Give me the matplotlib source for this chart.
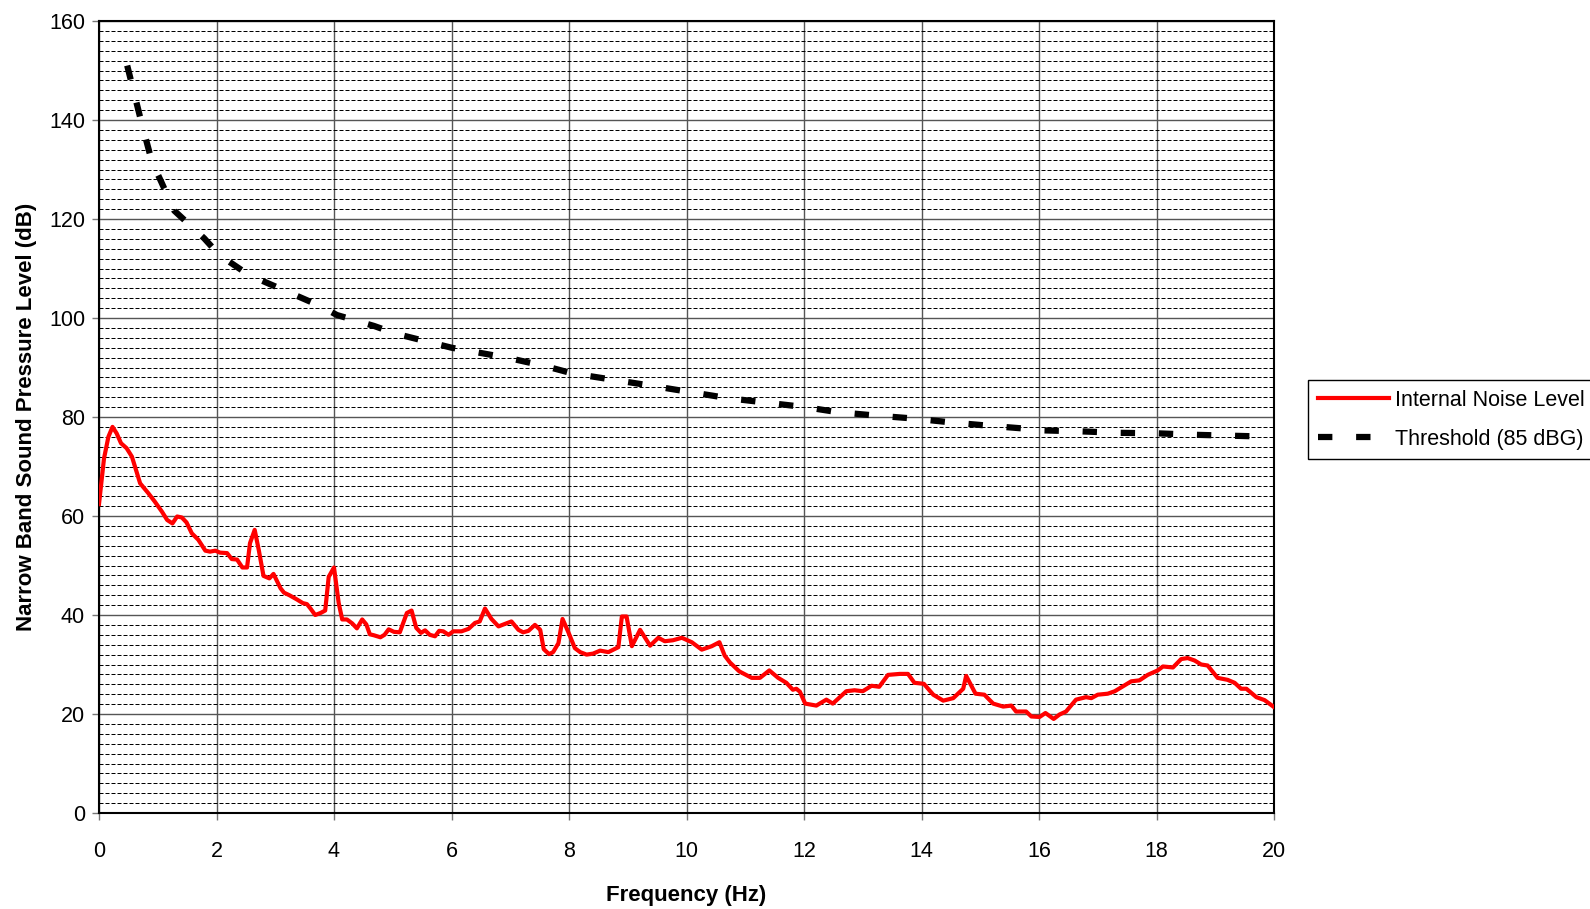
import matplotlib
matplotlib.use("Agg")
import matplotlib.pyplot as plt
from matplotlib.ticker import MultipleLocator

plt.rcParams["font.family"] = ["Liberation Sans", "DejaVu Sans"]

# Internal noise level, narrow band (Hz, dB)
noise_freq = [
    0.0, 0.085, 0.16, 0.23, 0.30, 0.375, 0.47, 0.56, 0.70, 0.84, 0.95, 1.07,
    1.16, 1.25, 1.33, 1.41, 1.49, 1.58, 1.69, 1.81, 1.89, 1.98, 2.06, 2.18,
    2.26, 2.35, 2.44, 2.52, 2.57, 2.65, 2.72, 2.80, 2.90, 2.97, 3.09, 3.15,
    3.24, 3.36, 3.47, 3.54, 3.60, 3.68, 3.77, 3.85, 3.91, 4.0, 4.08, 4.14,
    4.22, 4.31, 4.39, 4.48, 4.55, 4.61, 4.68, 4.79, 4.86, 4.93, 5.02, 5.12,
    5.24, 5.32, 5.40, 5.48, 5.55, 5.63, 5.72, 5.79, 5.86, 5.95, 6.03, 6.17,
    6.29, 6.40, 6.48, 6.57, 6.68, 6.80, 6.91, 7.02, 7.14, 7.22, 7.31, 7.42,
    7.51, 7.57, 7.66, 7.73, 7.82, 7.89, 7.99, 8.10, 8.19, 8.30, 8.41, 8.53,
    8.67, 8.84, 8.90, 8.98, 9.07, 9.21, 9.38, 9.52, 9.63, 9.77, 9.92, 10.09,
    10.26, 10.43, 10.56, 10.65, 10.74, 10.90, 11.11, 11.25, 11.41, 11.56,
    11.70, 11.81, 11.87, 11.93, 12.02, 12.21, 12.38, 12.49, 12.72, 12.86,
    13.0, 13.15, 13.28, 13.43, 13.63, 13.77, 13.88, 14.04, 14.2, 14.37,
    14.54, 14.71, 14.76, 14.92, 15.07, 15.22, 15.39, 15.53, 15.61, 15.78,
    15.87, 16.01, 16.11, 16.25, 16.35, 16.46, 16.63, 16.80, 16.89, 17.00,
    17.17, 17.29, 17.43, 17.57, 17.71, 17.85, 18.02, 18.11, 18.28, 18.42,
    18.53, 18.65, 18.76, 18.87, 19.04, 19.21, 19.33, 19.44, 19.53, 19.70,
    19.84, 20.0,
]
noise_level = [
    62.4, 71.6, 76.0, 78.0, 76.7, 74.7, 73.7, 72.0, 66.6, 64.6, 62.9, 60.9,
    59.2, 58.5, 59.9, 59.7, 58.7, 56.5, 55.2, 53.0, 52.8, 53.0, 52.6, 52.5,
    51.3, 51.2, 49.6, 49.6, 54.5, 57.2, 53.1, 47.9, 47.4, 48.3, 45.4, 44.5,
    44.0, 43.2, 42.4, 42.2, 41.3, 40.0, 40.4, 40.9, 47.7, 49.6, 42.4, 39.1,
    39.1, 38.3, 37.3, 39.1, 38.1, 36.1, 35.9, 35.5, 36.0, 37.1, 36.6, 36.5,
    40.4, 40.9, 37.4, 36.4, 36.9, 36.0, 35.7, 36.8, 36.7, 36.0, 36.7, 36.7,
    37.2, 38.4, 38.7, 41.3, 39.2, 37.7, 38.2, 38.7, 37.0, 36.5, 36.8, 38.0,
    37.0, 33.1, 32.1, 32.5, 34.3, 39.2, 36.5, 33.3, 32.5, 32.0, 32.2, 32.8,
    32.5, 33.5, 39.7, 39.7, 33.7, 37.0, 33.8, 35.4, 34.7, 34.9, 35.4, 34.5,
    33.0, 33.7, 34.5, 31.8, 30.4, 28.6, 27.3, 27.3, 28.8, 27.3,
    26.3, 24.9, 25.1, 24.5, 22.1, 21.7, 22.9, 22.1, 24.6, 24.8,
    24.6, 25.7, 25.5, 27.9, 28.1, 28.1, 26.3, 26.1, 23.9, 22.7,
    23.2, 25.1, 27.7, 24.1, 23.9, 22.1, 21.5, 21.7, 20.5, 20.5,
    19.5, 19.4, 20.2, 19.0, 19.9, 20.5, 22.9, 23.4, 23.2, 23.9,
    24.1, 24.6, 25.6, 26.6, 26.8, 27.9, 28.8, 29.6, 29.4, 31.1,
    31.3, 30.8, 30.0, 29.8, 27.3, 26.9, 26.3, 25.1, 25.1, 23.4,
    22.8, 21.4,
]

# Threshold curve (85 dBG)
threshold_freq = [
    0.48, 0.71, 0.90, 1.06, 1.28, 1.79, 2.05, 2.55, 3.17, 3.77, 4.05, 4.68,
    5.06, 6.0, 6.98, 7.62, 8.06, 8.71, 9.36, 10.03, 10.71, 11.36, 12.02,
    12.56, 13.21, 13.86, 14.51, 15.18, 15.82, 16.06, 16.71, 17.37, 18.02,
    18.67, 19.34, 20.0,
]
threshold_level = [
    151.0, 140.1, 131.6, 127.5, 121.7, 116.1, 112.7, 108.7, 105.5, 102.4,
    100.6, 98.4, 96.8, 94.0, 91.9, 90.2, 88.8, 87.6, 86.4, 85.1, 83.8, 82.9,
    82.0, 81.0, 80.3, 79.7, 78.9, 78.2, 77.6, 77.3, 77.1, 76.8, 76.7, 76.4,
    76.2, 76.0,
]

fig = plt.figure(figsize=(15.9, 9.09), dpi=100)
ax = fig.add_axes([99 / 1590, 1 - 813 / 909, 1175 / 1590, 792 / 909])

ax.plot(noise_freq, noise_level, color="#ff0000", lw=3.0,
        solid_joinstyle="round", label="Internal Noise Level", zorder=3)
thr, = ax.plot(threshold_freq, threshold_level, color="black", lw=4.5,
               dash_capstyle="butt", label="Threshold (85 dBG)", zorder=3)
thr.set_dashes((2.3, 3.8))

ax.set_xlim(0, 20)
ax.set_ylim(0, 160)
ax.xaxis.set_major_locator(MultipleLocator(2))
ax.yaxis.set_major_locator(MultipleLocator(20))
ax.yaxis.set_minor_locator(MultipleLocator(2))

ax.grid(which="major", color="#555555", lw=1.0, zorder=1)
ax.grid(which="minor", axis="y", color="black", lw=0.72,
        ls=(0, (4, 2)), zorder=1)
ax.set_axisbelow(True)

ax.tick_params(which="major", direction="out", length=5, width=1,
               color="#777777", labelsize=15.5)
ax.tick_params(axis="x", pad=15)
ax.tick_params(axis="y", pad=5)
ax.tick_params(which="minor", length=0)

for sp in ax.spines.values():
    sp.set_color("black")
    sp.set_linewidth(1.5)

ax.set_xlabel("Frequency (Hz)", fontsize=16, fontweight="bold")
ax.set_ylabel("Narrow Band Sound Pressure Level (dB)", fontsize=16,
              fontweight="bold")
ax.xaxis.set_label_coords(0.5, -0.091)
ax.yaxis.set_label_coords(-0.053, 0.5)

leg = ax.legend(loc="upper left", bbox_to_anchor=(1308 / 1590, 1 - 380 / 909),
                bbox_transform=fig.transFigure, borderaxespad=0,
                fontsize=15.5, frameon=True, fancybox=False, framealpha=1,
                edgecolor="black", handlelength=3.3, handletextpad=0.3,
                labelspacing=0.83, borderpad=0.45)
leg.get_frame().set_linewidth(1.0)

fig.savefig("out.png", dpi=100)
